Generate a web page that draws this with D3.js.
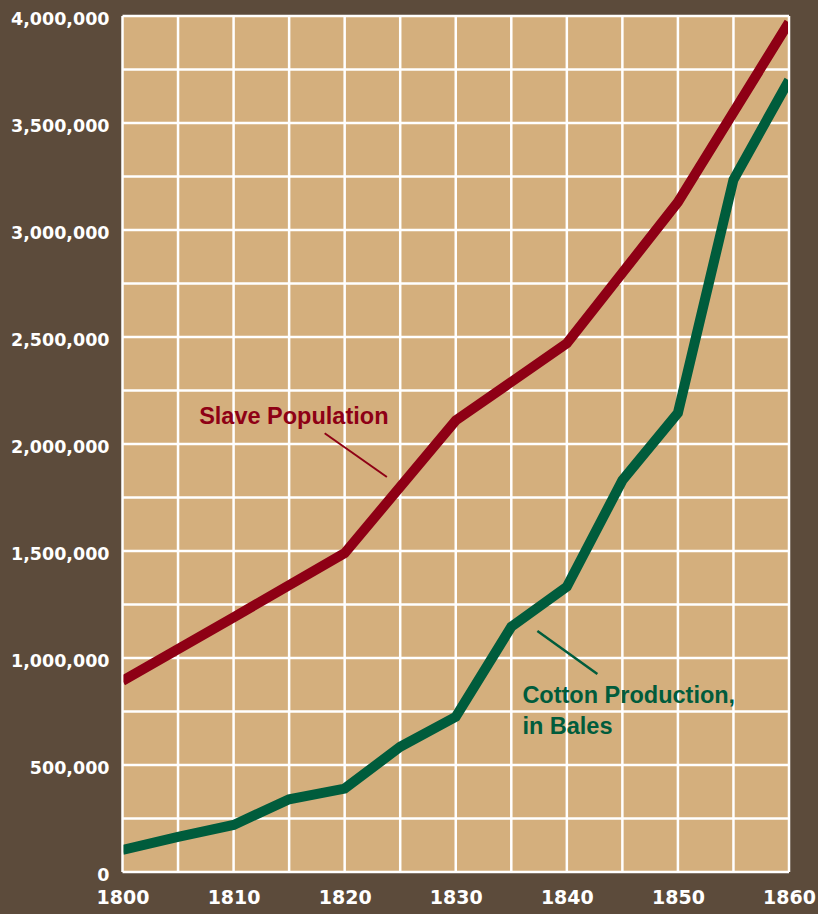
<!DOCTYPE html>
<html>
<head>
<meta charset="utf-8">
<script src="https://cdn.jsdelivr.net/npm/d3@7"></script>
<style>
  html, body { margin: 0; padding: 0; background: #5c4b3b; }
  svg { display: block; }
</style>
</head>
<body>
<svg id="chart"></svg>
<script>
// data
var slaveYears = [1800, 1810, 1820, 1830, 1840, 1850, 1860];
var slavePopulation = [893000, 1190000, 1490000, 2110000, 2470000, 3130000, 3970000];

var cottonYears = [1800, 1805, 1810, 1815, 1820, 1825, 1830, 1835, 1840, 1845, 1850, 1855, 1860];
var cottonBales = [103000, 164000, 220000, 340000, 390000, 585000, 725000, 1146000, 1333000, 1830000, 2145000, 3235000, 3700000];

var xTickLabels = [1800, 1810, 1820, 1830, 1840, 1850, 1860];
var yTickLabels = [0, 500000, 1000000, 1500000, 2000000, 2500000, 3000000, 3500000, 4000000];

var svgWidth = 818;
var svgHeight = 914;
var plotLeft = 122.5, plotRight = 789, plotTop = 16, plotBottom = 872;

var bg = '#5c4b3b';
var plotFill = '#d4af7d';
var red = '#8e0015';
var green = '#005c3c';

var svg = d3.select('#chart')
    .attr('width', svgWidth)
    .attr('height', svgHeight);

svg.append('rect')
    .attr('width', svgWidth).attr('height', svgHeight)
    .attr('fill', bg);

var x = d3.scaleLinear().domain([1800, 1860]).range([plotLeft, plotRight]);
var y = d3.scaleLinear().domain([0, 4000000]).range([plotBottom, plotTop]);

// plot background
svg.append('rect')
    .attr('x', x(1800)).attr('y', y(4000000))
    .attr('width', x(1860) - x(1800))
    .attr('height', y(0) - y(4000000))
    .attr('fill', plotFill);

// grid: every 5 years, every 250,000
var grid = svg.append('g').attr('stroke', '#fff').attr('stroke-width', 2.5);
grid.selectAll('.vline')
    .data(d3.range(1800, 1861, 5))
    .enter().append('line')
    .attr('x1', function(d){ return x(d); })
    .attr('x2', function(d){ return x(d); })
    .attr('y1', y(0)).attr('y2', y(4000000));
grid.selectAll('.hline')
    .data(d3.range(0, 4000001, 250000))
    .enter().append('line')
    .attr('y1', function(d){ return y(d); })
    .attr('y2', function(d){ return y(d); })
    .attr('x1', x(1800)).attr('x2', x(1860));

// clip series to plot
svg.append('clipPath').attr('id', 'plotClip')
    .append('rect')
    .attr('x', x(1800) + 1).attr('y', y(4000000) + 1)
    .attr('width', x(1860) - x(1800) - 2)
    .attr('height', y(0) - y(4000000) - 2);

var line = d3.line()
    .x(function(d){ return x(d[0]); })
    .y(function(d){ return y(d[1]); });

var series = svg.append('g').attr('clip-path', 'url(#plotClip)');

series.append('path')
    .datum(d3.zip(slaveYears, slavePopulation))
    .attr('d', line)
    .attr('fill', 'none')
    .attr('stroke', red)
    .attr('stroke-width', 10);

series.append('path')
    .datum(d3.zip(cottonYears, cottonBales))
    .attr('d', line)
    .attr('fill', 'none')
    .attr('stroke', green)
    .attr('stroke-width', 10);

// axes
var yAxis = d3.axisLeft(y)
    .tickValues(yTickLabels)
    .tickFormat(d3.format(','))
    .tickSize(0)
    .tickPadding(13);
var gy = svg.append('g')
    .attr('transform', 'translate(' + plotLeft + ',0)')
    .call(yAxis);
gy.select('.domain').remove();
gy.selectAll('text')
    .attr('dy', '0.47em')
    .attr('fill', '#fff')
    .style('font-family', '"DejaVu Sans", sans-serif')
    .style('font-weight', 'bold')
    .style('font-size', '17.5px');

var xAxis = d3.axisBottom(x)
    .tickValues(xTickLabels)
    .tickFormat(d3.format('d'))
    .tickSize(0)
    .tickPadding(19);
var gx = svg.append('g')
    .attr('transform', 'translate(0,' + plotBottom + ')')
    .call(xAxis);
gx.select('.domain').remove();
gx.selectAll('text')
    .attr('fill', '#fff')
    .style('font-family', '"DejaVu Sans", sans-serif')
    .style('font-weight', 'bold')
    .style('font-size', '19px');

// labels with leader lines
var labelFont = '"Liberation Sans", Arial, sans-serif';

svg.append('text')
    .attr('x', x(1806.9)).attr('y', y(2093000))
    .attr('fill', red)
    .style('font-family', labelFont)
    .style('font-weight', 'bold')
    .style('font-size', '23.5px')
    .text('Slave Population');
svg.append('line')
    .attr('x1', x(1818.2)).attr('y1', y(2050000))
    .attr('x2', x(1823.8)).attr('y2', y(1846000))
    .attr('stroke', red).attr('stroke-width', 2);

var cottonLabel = svg.append('text')
    .attr('fill', green)
    .style('font-family', labelFont)
    .style('font-weight', 'bold')
    .style('font-size', '23.5px');
cottonLabel.append('tspan')
    .attr('x', x(1836.0)).attr('y', y(790000))
    .text('Cotton Production,');
cottonLabel.append('tspan')
    .attr('x', x(1836.0)).attr('y', y(645000))
    .text('in Bales');
svg.append('line')
    .attr('x1', x(1837.35)).attr('y1', y(1126000))
    .attr('x2', x(1842.75)).attr('y2', y(925000))
    .attr('stroke', green).attr('stroke-width', 2.5);
</script>
</body>
</html>
